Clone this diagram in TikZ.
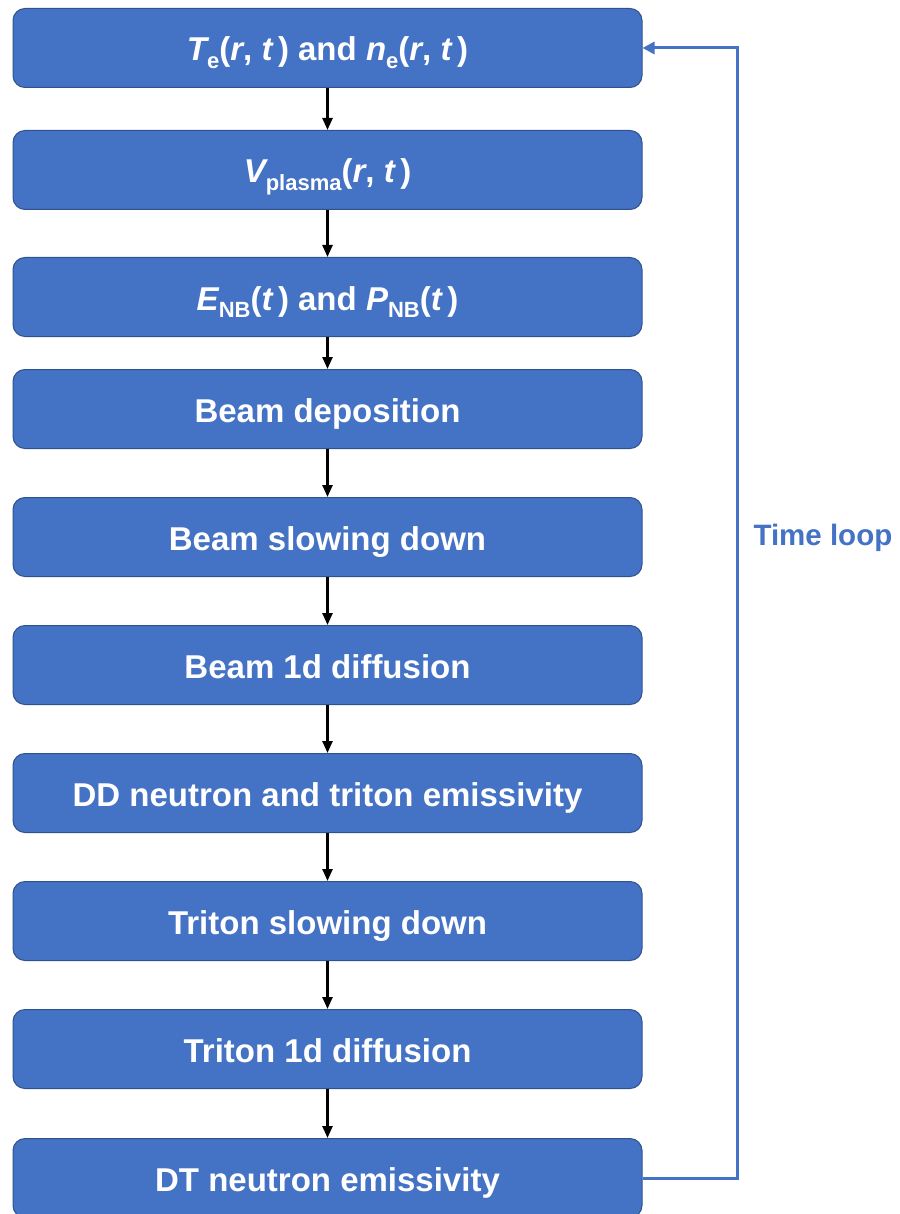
\documentclass[tikz,border=0pt]{standalone}
\usepackage{fontspec}
\setmainfont{Liberation Sans}
\usetikzlibrary{arrows.meta}
\definecolor{boxblue}{HTML}{4472C4}
\definecolor{boxedge}{HTML}{2F528F}
\newcommand{\var}[1]{{\itshape #1}}
\newcommand{\lowsub}[1]{\raisebox{-0.22em}{\fontsize{22}{26}\selectfont #1}}
\begin{document}
\begin{tikzpicture}[x=1pt,y=-1pt,
  stepbox/.style={draw=boxedge, line width=1pt, fill=boxblue, rounded corners=12pt,
    minimum width=629pt, minimum height=79pt, inner sep=0pt,
    text height=27pt, text depth=1pt,
    text=white, font=\fontsize{33}{40}\selectfont\bfseries},
  flow/.style={-{Triangle[length=12pt,width=10pt]}, line width=2.4pt, black},
  loopline/.style={-{Triangle[length=12pt,width=12pt]}, line width=3pt, boxblue}]
\useasboundingbox (0,0) rectangle (899,1214);

\node[stepbox] (b1)  at (327.5,48)   {\var{T}\lowsub{e}(\var{r}, \var{t}\,) and \var{n}\lowsub{e}(\var{r}, \var{t}\,)};
\node[stepbox] (b2)  at (327.5,170)  {\var{V}\lowsub{plasma}(\var{r}, \var{t}\,)};
\node[stepbox] (b3)  at (327.5,297)  {\var{E}\lowsub{NB}(\var{t}\,) and \var{P}\lowsub{NB}(\var{t}\,)};
\node[stepbox] (b4)  at (327.5,409)  {Beam deposition};
\node[stepbox] (b5)  at (327.5,537)  {Beam slowing down};
\node[stepbox] (b6)  at (327.5,665)  {Beam 1d diffusion};
\node[stepbox] (b7)  at (327.5,793)  {DD neutron and triton emissivity};
\node[stepbox] (b8)  at (327.5,921)  {Triton slowing down};
\node[stepbox] (b9)  at (327.5,1049) {Triton 1d diffusion};
\node[stepbox] (b10) at (327.5,1178) {DT neutron emissivity};

\foreach \a/\b in {b1/b2,b2/b3,b3/b4,b4/b5,b5/b6,b6/b7,b7/b8,b8/b9,b9/b10}
  \draw[flow] (\a.south) -- (\b.north);

% feedback from the last step back to the first
\draw[loopline] (b10.east) -- ++(95,0) coordinate (turn) |- (b1.east);
\node[text=boxblue, font=\fontsize{29.5}{36}\selectfont\bfseries, anchor=west] (lbl) at (750,538) {Time loop};
\end{tikzpicture}
\end{document}
